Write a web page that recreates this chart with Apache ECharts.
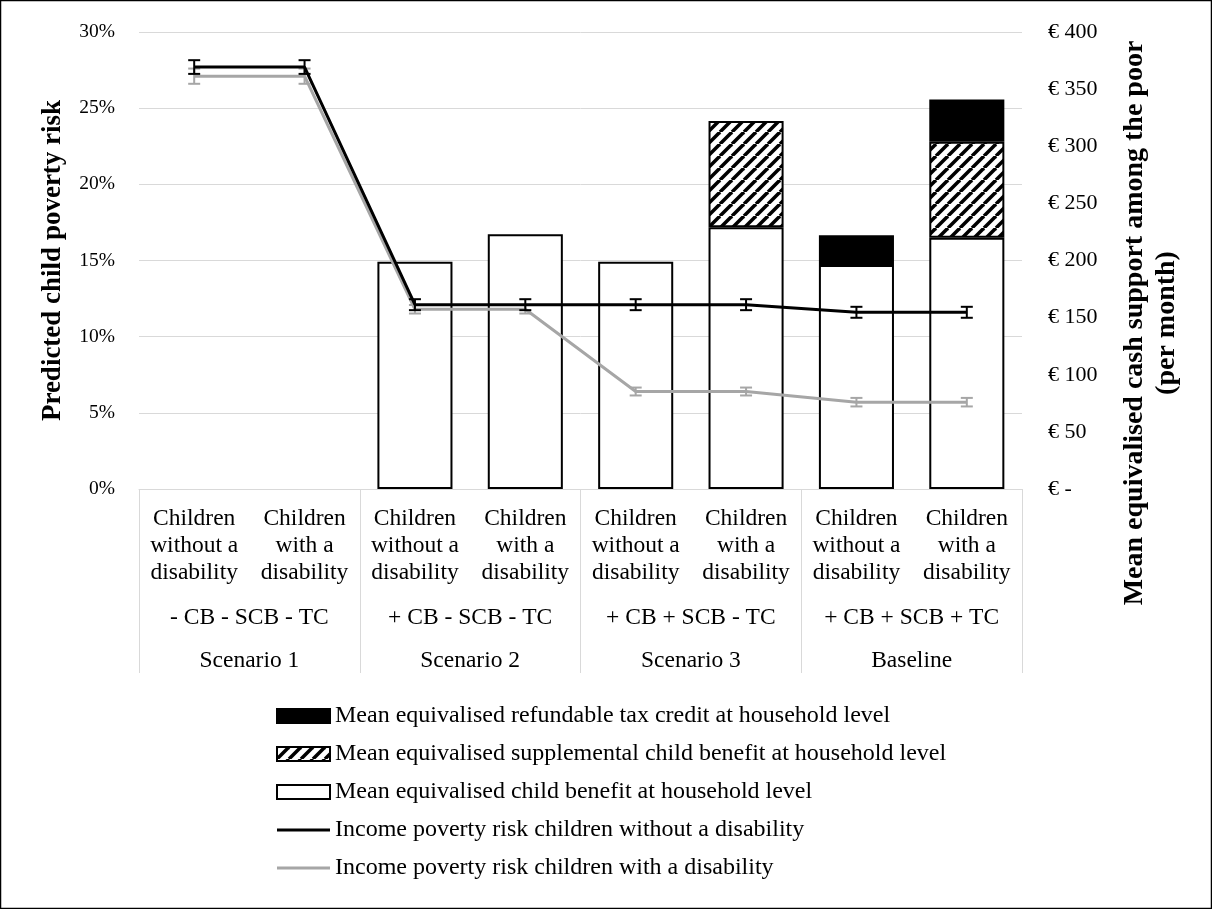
<!DOCTYPE html>
<html>
<head>
<meta charset="utf-8">
<script src="https://cdn.jsdelivr.net/npm/echarts@6/dist/echarts.min.js"></script>
<style>
  html, body { margin: 0; padding: 0; background: #fff; }
  #chart { width: 1212px; height: 909px; }
</style>
</head>
<body>
<div id="chart"></div>
<script>
// Categories: child group within each policy scenario
const childGroups = [
  'Children\nwithout a\ndisability', 'Children\nwith a\ndisability',
  'Children\nwithout a\ndisability', 'Children\nwith a\ndisability',
  'Children\nwithout a\ndisability', 'Children\nwith a\ndisability',
  'Children\nwithout a\ndisability', 'Children\nwith a\ndisability'
];
const policyMix = ['- CB - SCB - TC', '+ CB - SCB - TC', '+ CB + SCB - TC', '+ CB + SCB + TC'];
const scenarios = ['Scenario 1', 'Scenario 2', 'Scenario 3', 'Baseline'];

// Mean equivalised cash support (EUR per month), stacked
const childBenefit = [null, null, 199, 223, 199, 229, 196, 220];
const supplementalBenefit = [null, null, null, null, null, 93, null, 84];
const taxCredit = [null, null, null, null, null, null, 26, 37];

// Predicted poverty risk (%) and half-width of the confidence interval
const riskNoDisability = [27.7, 27.7, 12.1, 12.1, 12.1, 12.1, 11.6, 11.6];
const errNoDisability = [0.45, 0.45, 0.36, 0.36, 0.36, 0.36, 0.36, 0.36];
const riskDisability = [27.1, 27.1, 11.8, 11.8, 6.4, 6.4, 5.7, 5.7];
const errDisability = [0.5, 0.5, 0.28, 0.28, 0.26, 0.26, 0.28, 0.28];

const leftTicks = [0, 30, 5];    // min, max, step (%)
const rightTicks = [0, 400, 50]; // min, max, step (EUR)

const NAME_TAX = 'Mean equivalised refundable tax credit at household level';
const NAME_SUPP = 'Mean equivalised supplemental child benefit at household level';
const NAME_CB = 'Mean equivalised child benefit at household level';
const NAME_NODIS = 'Income poverty risk children without a disability';
const NAME_DIS = 'Income poverty risk children with a disability';

const FONT = 'Liberation Serif';
const GRID_GREY = '#d9d9d9';
const LINE_GREY = '#a6a6a6';

// Diagonal hatch fill
function hatchPattern() {
  const s = 12;
  const c = document.createElement('canvas');
  c.width = s; c.height = s;
  const g = c.getContext('2d');
  g.fillStyle = '#fff';
  g.fillRect(0, 0, s, s);
  g.strokeStyle = '#000';
  g.lineWidth = 3.5;
  [-s, 0, s].forEach(k => {
    g.beginPath();
    g.moveTo(k, s);
    g.lineTo(k + s, 0);
    g.stroke();
  });
  return { image: c, repeat: 'repeat' };
}

function errorData(values, errs) {
  return values.map((v, i) => [i, v - errs[i], v + errs[i]]);
}

function errorRenderer(color) {
  return function (params, api) {
    const lo = api.coord([api.value(0), api.value(1)]);
    const hi = api.coord([api.value(0), api.value(2)]);
    const w = 6;
    const style = { stroke: color, lineWidth: 2 };
    return {
      type: 'group',
      children: [
        { type: 'line', shape: { x1: lo[0], y1: lo[1], x2: hi[0], y2: hi[1] }, style },
        { type: 'line', shape: { x1: lo[0] - w, y1: lo[1], x2: lo[0] + w, y2: lo[1] }, style },
        { type: 'line', shape: { x1: hi[0] - w, y1: hi[1], x2: hi[0] + w, y2: hi[1] }, style }
      ]
    };
  };
}

const chart = echarts.init(document.getElementById('chart'));

const barCommon = {
  type: 'bar',
  stack: 'cash',
  yAxisIndex: 1,
  xAxisIndex: 0,
  barWidth: '68%'
};

// thin horizontal bar used as the legend key for the lines
const lineKey = 'path://M0,0 H53 V3 H0 Z';

chart.setOption({
  animation: false,
  textStyle: { fontFamily: FONT, color: '#000' },
  grid: { left: 139, right: 190, top: 32, bottom: 420 },
  legend: {
    orient: 'vertical',
    left: 276,
    top: 704,
    padding: 0,
    itemWidth: 53,
    itemHeight: 14,
    itemGap: 14,
    textStyle: { fontFamily: FONT, fontSize: 24, color: '#000', lineHeight: 24 },
    data: [
      { name: NAME_TAX, icon: 'rect' },
      { name: NAME_SUPP, icon: 'rect' },
      { name: NAME_CB, icon: 'rect' },
      { name: NAME_NODIS, icon: lineKey },
      { name: NAME_DIS, icon: lineKey }
    ]
  },
  xAxis: [
    {
      type: 'category',
      data: childGroups,
      axisLine: { show: true, lineStyle: { color: GRID_GREY, width: 1 } },
      axisTick: { show: false },
      axisLabel: { interval: 0, margin: 16, fontFamily: FONT, fontSize: 23.5, lineHeight: 27, color: '#000' }
    },
    {
      type: 'category',
      data: policyMix,
      position: 'bottom',
      axisLine: { show: false },
      axisTick: { show: true, length: 184, lineStyle: { color: GRID_GREY, width: 1 } },
      axisLabel: { interval: 0, margin: 115, fontFamily: FONT, fontSize: 23.5, lineHeight: 27, color: '#000' }
    },
    {
      type: 'category',
      data: scenarios,
      position: 'bottom',
      axisLine: { show: false },
      axisTick: { show: false },
      axisLabel: { interval: 0, margin: 158, fontFamily: FONT, fontSize: 23.5, lineHeight: 27, color: '#000' }
    }
  ],
  yAxis: [
    {
      type: 'value',
      min: leftTicks[0], max: leftTicks[1], interval: leftTicks[2],
      name: 'Predicted child poverty risk',
      nameLocation: 'middle',
      nameRotate: 90,
      nameGap: 72,
      nameTextStyle: { fontFamily: FONT, fontSize: 27, fontWeight: 'bold', color: '#000' },
      axisLine: { show: false },
      axisTick: { show: false },
      axisLabel: { formatter: '{value}%', margin: 24, fontFamily: FONT, fontSize: 19.5, color: '#000' },
      splitLine: { show: true, lineStyle: { color: GRID_GREY, width: 1 } }
    },
    {
      type: 'value',
      position: 'right',
      min: rightTicks[0], max: rightTicks[1], interval: rightTicks[2],
      axisLine: { show: false },
      axisTick: { show: false },
      splitLine: { show: false },
      axisLabel: {
        margin: 26,
        fontFamily: FONT, fontSize: 22, color: '#000',
        formatter: v => v === 0 ? '€ -' : '€ ' + v
      }
    }
  ],
  graphic: [
    {
      type: 'text',
      x: 1151, y: 323,
      rotation: Math.PI / 2,
      style: {
        text: 'Mean equivalised cash support among the poor\n(per month)',
        font: 'bold 28px "Liberation Serif"',
        fill: '#000',
        align: 'center',
        verticalAlign: 'middle',
        lineHeight: 32
      }
    },
    {
      type: 'rect',
      shape: { x: 0.5, y: 0.5, width: 1211, height: 908 },
      style: { fill: 'none', stroke: '#000', lineWidth: 1.5 },
      silent: true
    }
  ],
  series: [
    Object.assign({}, barCommon, {
      name: NAME_CB,
      data: childBenefit,
      itemStyle: { color: '#fff', borderColor: '#000', borderWidth: 2 }
    }),
    Object.assign({}, barCommon, {
      name: NAME_SUPP,
      data: supplementalBenefit,
      itemStyle: { color: hatchPattern(), borderColor: '#000', borderWidth: 2 }
    }),
    Object.assign({}, barCommon, {
      name: NAME_TAX,
      data: taxCredit,
      itemStyle: { color: '#000', borderColor: '#000', borderWidth: 2 }
    }),
    {
      name: NAME_DIS,
      type: 'line',
      yAxisIndex: 0,
      data: riskDisability,
      symbol: 'none',
      lineStyle: { color: LINE_GREY, width: 3 },
      itemStyle: { color: LINE_GREY },
      z: 3
    },
    {
      name: NAME_DIS,
      type: 'custom',
      yAxisIndex: 0,
      data: errorData(riskDisability, errDisability),
      renderItem: errorRenderer(LINE_GREY),
      z: 3
    },
    {
      name: NAME_NODIS,
      type: 'line',
      yAxisIndex: 0,
      data: riskNoDisability,
      symbol: 'none',
      lineStyle: { color: '#000', width: 3 },
      itemStyle: { color: '#000' },
      z: 4
    },
    {
      name: NAME_NODIS,
      type: 'custom',
      yAxisIndex: 0,
      data: errorData(riskNoDisability, errNoDisability),
      renderItem: errorRenderer('#000'),
      z: 4
    }
  ]
});
</script>
</body>
</html>
